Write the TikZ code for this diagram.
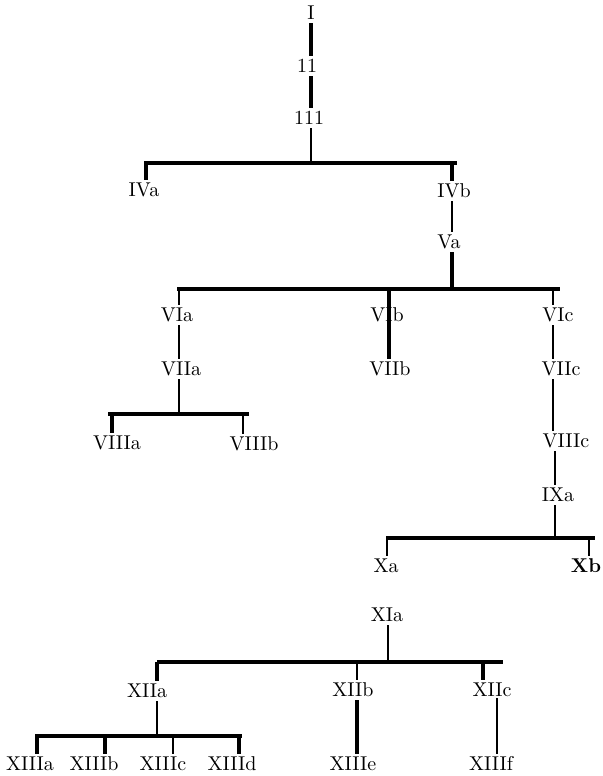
\documentclass[tikz,border=0pt]{standalone}
\usepackage{amsmath}

\begin{document}
\begin{tikzpicture}[x=0.5pt,y=0.5pt,yscale=-1,xscale=1,
  lbl/.style={inner sep=1.5pt, text height=6.9pt, text depth=0pt},
  thk/.style={line width=1.6pt},
  med/.style={line width=1pt},
  thn/.style={line width=0.6pt}]
\useasboundingbox (0,0) rectangle (602,776);

% Text Node
\draw (311,13) node [lbl] (I) {I};
\draw (307,66) node [lbl] (II) {11};
\draw (309,118) node [lbl] (III) {111};
\draw (144,190) node [lbl] (IVa) {IVa};
\draw (454,191) node [lbl] (IVb) {IVb};
\draw (449,242) node [lbl] (Va) {Va};
\draw (177,315) node [lbl] (VIa) {VIa};
\draw (387,315) node [lbl] (VIb) {VIb};
\draw (558,315) node [lbl] (VIc) {VIc};
\draw (181,369) node [lbl] (VIIa) {VIIa};
\draw (390,369) node [lbl] (VIIb) {VIIb};
\draw (561,369) node [lbl] (VIIc) {VIIc};
\draw (117,443) node [lbl] (VIIIa) {VIIIa};
\draw (254,444) node [lbl] (VIIIb) {VIIIb};
\draw (566,441) node [lbl] (VIIIc) {VIIIc};
\draw (558,495) node [lbl] (IXa) {IXa};
\draw (386,566) node [lbl] (Xa) {Xa};
\draw (586,566) node [lbl] (Xb) {\textbf{Xb}};
\draw (387,615) node [lbl] (XIa) {XIa};
\draw (147,691) node [lbl] (XIIa) {XIIa};
\draw (353,690) node [lbl] (XIIb) {XIIb};
\draw (492,690) node [lbl] (XIIc) {XIIc};
\draw (30,764) node [lbl] (XIIIa) {XIIIa};
\draw (94,764) node [lbl] (XIIIb) {XIIIb};
\draw (163,764) node [lbl] (XIIIc) {XIIIc};
\draw (232,764) node [lbl] (XIIId) {XIIId};
\draw (353,764) node [lbl] (XIIIe) {XIIIe};
\draw (491,764) node [lbl] (XIIIf) {XIIIf};

% Bars
\coordinate (j4) at (311,163);
\coordinate (b4l) at (144,163);
\coordinate (b4r) at (457,163);
\coordinate (d4a) at (146,163);
\coordinate (d4b) at (452,163);
\coordinate (j6) at (452,289);
\coordinate (b6l) at (177,289);
\coordinate (b6r) at (560,289);
\coordinate (d6a) at (179,289);
\coordinate (d6b) at (389,289);
\coordinate (d6c) at (553,289);
\coordinate (j8) at (179,414);
\coordinate (b8l) at (108,414);
\coordinate (b8r) at (249,414);
\coordinate (d8a) at (112,414);
\coordinate (d8b) at (243,414);
\coordinate (j10) at (555,538);
\coordinate (b10l) at (386,538);
\coordinate (b10r) at (595,538);
\coordinate (d10a) at (387,538);
\coordinate (d10b) at (589,538);
\coordinate (j12) at (388,662);
\coordinate (b12l) at (157,662);
\coordinate (b12r) at (503,662);
\coordinate (d12b) at (357,662);
\coordinate (d12c) at (483,662);
\coordinate (k12c) at (497,698);
\coordinate (j13) at (157,736);
\coordinate (b13l) at (35,736);
\coordinate (b13r) at (242,736);
\coordinate (d13a) at (37,736);
\coordinate (d13b) at (105,736);
\coordinate (d13c) at (173,736);
\coordinate (d13d) at (239,736);

%Straight Lines
\draw [thk] (I.south -| j4) -- (II.north -| j4);
\draw [thk] (II.south -| j4) -- (III.north -| j4);
\draw [med] (III.south -| j4) -- (j4);
\draw [thk] (b4l) -- (b4r);
\draw [thk] (d4a) -- (d4a |- IVa.north);
\draw [thk] (d4b) -- (d4b |- IVb.north);
\draw [thn] (IVb.south -| d4b) -- (Va.north -| d4b);
\draw [thk] (Va.south -| d4b) -- (j6);
\draw [thk] (b6l) -- (b6r);
\draw [thn] (d6a) -- (d6a |- VIa.north);
\draw [thk] (d6b) -- (d6b |- VIIb.north);
\draw [thn] (d6c) -- (d6c |- VIc.north);
\draw [thn] (VIa.south -| d6a) -- (VIIa.north -| d6a);
\draw [med] (VIIa.south -| d6a) -- (j8);
\draw [thk] (b8l) -- (b8r);
\draw [thk] (d8a) -- (d8a |- VIIIa.north);
\draw [med] (d8b) -- (d8b |- VIIIb.north);
\draw [thn] (VIc.south -| d6c) -- (VIIc.north -| d6c);
\draw [med] (VIIc.south -| d6c) -- (VIIIc.north -| d6c);
\draw [med] (VIIIc.south -| j10) -- (IXa.north -| j10);
\draw [thn] (IXa.south -| j10) -- (j10);
\draw [thk] (b10l) -- (b10r);
\draw [med] (d10a) -- (d10a |- Xa.north);
\draw [thn] (d10b) -- (d10b |- Xb.north);
\draw [med] (XIa.south -| j12) -- (j12);
\draw [thk] (b12l) -- (b12r);
\draw [thk] (b12l) -- (b12l |- XIIa.north);
\draw [med] (XIIa.south -| b12l) -- (j13);
\draw [thk] (b13l) -- (b13r);
\draw [thk] (d13a) -- (d13a |- XIIIa.north);
\draw [thk] (d13b) -- (d13b |- XIIIb.north);
\draw [med] (d13c) -- (d13c |- XIIIc.north);
\draw [thk] (d13d) -- (d13d |- XIIId.north);
\draw [thn] (d12b) -- (d12b |- XIIb.north);
\draw [thk] (XIIb.south -| d12b) -- (d12b |- XIIIe.north);
\draw [thk] (d12c) -- (d12c |- XIIc.north);
\draw [thn] (k12c) -- (k12c |- XIIIf.north);

\end{tikzpicture}
\end{document}
